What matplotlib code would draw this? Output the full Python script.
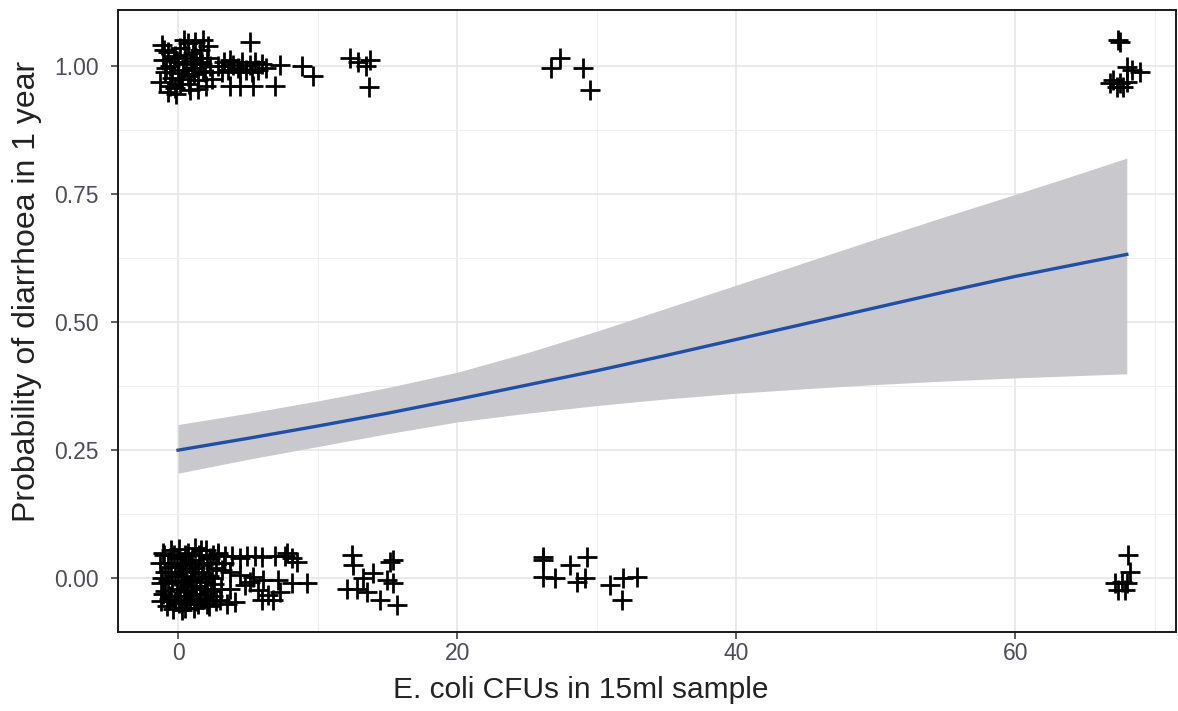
"""
Logistic fit: probability of diarrhoea in 1 year vs E. coli CFUs.
Jittered observations at 0/1 plus fitted curve with 95% band.
"""

import numpy as np
import matplotlib
matplotlib.use('Agg')
import matplotlib.pyplot as plt

plt.rcParams['font.family'] = ['Liberation Sans', 'DejaVu Sans']

# ── Observations (jittered) ──────────────────────────────────────────────────
# outcome = 1 (diarrhoea)
YES_X = [-1.15, -0.72, -1.08, -0.57, -0.93, -0.43, -1.29, -0.22, -0.72, 0.14,
         0.50, 0.00, 0.36, 0.72, 0.14, 0.86, 1.22, 1.58, 1.29, 1.72,
         1.00, 1.94, 1.43, 2.15, 2.01, -0.29, 0.57, 1.15, 1.58, 2.29,
         -0.14, 0.43, 1.79, -0.86, 0.79,
         -1.0, -0.6, -0.2, 0.3, 0.7, 1.1, 1.4, 1.8, 2.1, 2.4, 0.0, 0.9,
         2.87, 3.30, 3.58, 3.94, 4.30, 4.59, 4.87, 5.16, 5.52, 5.73,
         6.02, 6.31, 3.73, 4.44, 5.30, 3.15, 3.73, 4.44, 5.38, 6.95,
         5.16, 7.31, 8.89, 9.68,
         12.33, 12.90, 13.48, 13.76, 13.69,
         26.7, 27.4, 29.0, 29.5,
         67.4, 67.5, 68.0, 68.4, 68.96, 67.0, 67.5, 68.0, 67.7, 66.8, 67.3]
YES_Y = [1.041, 1.027, 1.012, 1.000, 0.988, 0.977, 0.969, 0.957, 0.949, 1.035,
         1.021, 1.008, 0.992, 0.980, 0.965, 0.953, 1.047, 1.031, 1.016, 1.004,
         0.996, 0.988, 0.973, 1.039, 0.961, 1.016, 1.004, 0.984, 1.008, 1.000,
         0.945, 1.051, 1.051, 0.996, 0.965,
         1.030, 0.960, 1.020, 0.975, 1.045, 1.025, 0.955, 0.990, 1.015, 0.975, 0.985, 1.010,
         1.000, 1.008, 0.992, 1.002, 0.996, 1.008, 0.992, 1.002, 1.008, 0.992,
         1.004, 0.996, 1.012, 0.988, 0.988, 0.988, 0.961, 0.961, 0.961, 0.961,
         1.047, 1.002, 1.000, 0.980,
         1.016, 1.008, 1.000, 1.012, 0.959,
         0.996, 1.016, 0.996, 0.953,
         1.051, 1.047, 0.998, 0.992, 0.988, 0.973, 0.967, 0.969, 0.959, 0.967, 0.959]

# outcome = 0 (no diarrhoea)
NO_X = [-1.3, -1.2, -1.25, -1.0, -0.9, -0.95, -0.8,
        -0.5, -0.5, -0.4, -0.55, -0.35,
        -0.1, 0.0, -0.05, 0.05, 0.1,
        0.3, 0.35, 0.4, 0.25,
        0.7, 0.6, 0.75, 0.65,
        1.0, 1.1, 1.05, 1.15, 1.2,
        1.5, 1.4, 1.55, 1.45,
        1.8, 1.9, 1.85, 2.0,
        2.3, 2.2, 2.35, 2.25,
        2.7, 2.6, 2.75, 2.9,
        -1.1, -1.15, -1.05, -0.7, -0.75, -0.65, -0.3, -0.25, -0.2, 0.15,
        0.2, 0.15, 0.5, 0.45, 0.55, 0.5, 0.85, 0.9, 0.85, 1.25,
        1.3, 1.3, 1.65, 1.7, 1.65, 2.05, 2.1, 2.05, 2.5, 2.45,
        2.5, 3.1, 3.3, 3.5,
        2.87, 3.37, 3.87, 4.44, 4.95, 5.52, 6.02, 6.95, 7.67, 8.17,
        3.15, 3.73, 4.44, 5.38, 6.09, 7.17, 3.73, 4.80, 5.73, 6.45,
        7.31, 8.17, 6.02, 6.81, 9.25, 8.53, 7.81, 5.16, 3.0, 4.1,
        12.47, 12.54, 13.98, 13.26, 12.11, 12.83, 13.55, 15.20, 15.41, 14.98,
        15.41, 14.48, 15.70,
        26.16, 26.16, 26.16, 27.03, 28.10, 29.32, 28.60, 29.18, 30.97, 31.90,
        32.90, 31.83,
        68.1, 68.24, 67.67, 68.03, 67.17, 67.38, 67.88]
NO_Y = [0.030, -0.010, -0.045, 0.045, 0.012, -0.025, -0.055,
        0.055, 0.022, -0.005, -0.035, -0.060,
        0.040, 0.010, -0.020, -0.048, 0.058,
        0.030, -0.005, -0.035, -0.062,
        0.050, 0.015, -0.015, -0.045,
        0.035, 0.000, -0.030, -0.058, 0.060,
        0.045, 0.012, -0.020, -0.050,
        0.025, -0.008, -0.040, 0.055,
        0.040, 0.005, -0.025, -0.055,
        0.020, -0.012, -0.045, 0.050,
        0.050, 0.000, -0.030, 0.030, -0.005, -0.040, 0.045, 0.005, -0.045, 0.025,
        -0.010, -0.035, 0.045, 0.005, -0.025, -0.058, 0.030, -0.005, -0.040, 0.020,
        -0.015, -0.045, 0.055, 0.010, -0.030, 0.030, -0.020, -0.050, 0.045, 0.000,
        -0.035, -0.020, 0.030, -0.050,
        0.045, 0.043, 0.043, 0.039, 0.043, 0.043, 0.041, 0.043, 0.043, 0.039,
        0.016, 0.012, 0.006, 0.002, -0.004, -0.004, -0.020, -0.014, -0.023, -0.033,
        -0.027, -0.010, -0.043, -0.043, -0.010, 0.031, 0.049, -0.008, -0.043, -0.047,
        0.045, 0.025, 0.010, 0.000, -0.020, -0.020, -0.027, 0.031, 0.035, -0.004,
        -0.010, -0.043, -0.053,
        0.041, 0.035, 0.002, 0.000, 0.025, 0.041, -0.008, 0.000, -0.014, 0.000,
        0.002, -0.043,
        0.045, 0.012, -0.008, -0.010, -0.010, -0.023, -0.023]

FIT_X     = [0, 5, 10, 15, 20, 25, 30, 35, 40, 45, 50, 55, 60, 65, 68]
FIT_Y     = [0.250, 0.273, 0.297, 0.322, 0.349, 0.377, 0.405, 0.435, 0.466,
             0.497, 0.528, 0.559, 0.589, 0.616, 0.632]
FIT_LOWER = [0.205, 0.232, 0.257, 0.282, 0.305, 0.322, 0.337, 0.350, 0.361,
             0.370, 0.378, 0.385, 0.391, 0.396, 0.399]
FIT_UPPER = [0.300, 0.322, 0.346, 0.372, 0.402, 0.440, 0.482, 0.527, 0.572,
             0.617, 0.662, 0.706, 0.749, 0.793, 0.820]

X_TICKS = [0, 20, 40, 60]
Y_TICKS = [0.00, 0.25, 0.50, 0.75, 1.00]


def main():
    fig = plt.figure(figsize=(11.78, 7.11), dpi=100)
    ax = fig.add_axes([0.1002, 0.111, 0.8978, 0.875])

    # confidence band + fit
    ax.fill_between(FIT_X, FIT_LOWER, FIT_UPPER, color='#C9C9CD', lw=0, zorder=2)
    ax.plot(FIT_X, FIT_Y, color='#1F4FA6', lw=2.4, zorder=3)

    # jittered points
    ax.scatter(YES_X, YES_Y, marker='+', s=190, c='black', linewidths=2.0, zorder=4)
    ax.scatter(NO_X, NO_Y, marker='+', s=190, c='black', linewidths=2.0, zorder=4)

    ax.set_xlim(-4.3, 71.5)
    ax.set_ylim(-0.105, 1.109)

    ax.set_xticks(X_TICKS)
    ax.set_xticks([10, 30, 50, 70], minor=True)
    ax.set_yticks(Y_TICKS)
    ax.set_yticks([0.125, 0.375, 0.625, 0.875], minor=True)
    ax.set_yticklabels([f'{v:.2f}' for v in Y_TICKS])

    ax.grid(True, which='major', color='#E4E4E4', lw=1.1, zorder=0)
    ax.grid(True, which='minor', color='#EFEFEF', lw=0.8, zorder=0)
    ax.set_axisbelow(True)

    ax.tick_params(which='major', length=5, width=1.1, color='#333333',
                   labelsize=16.5, labelcolor='#4D4D5A')
    ax.tick_params(axis='x', which='major', pad=2)
    ax.tick_params(axis='y', which='major', pad=9)
    ax.tick_params(which='minor', length=0)

    for sp in ax.spines.values():
        sp.set_color('#1A1A1A')
        sp.set_linewidth(1.4)

    ax.set_xlabel('E. coli CFUs in 15ml sample', fontsize=21.5, color='#222222', va='center')
    ax.set_ylabel('Probability of diarrhoea in 1 year', fontsize=23, color='#222222', va='center')
    ax.xaxis.set_label_coords(0.4376, -0.093)
    ax.yaxis.set_label_coords(-0.086, 0.548)

    fig.savefig('out.png', dpi=100, facecolor='white')
    plt.close(fig)


if __name__ == "__main__":
    main()
